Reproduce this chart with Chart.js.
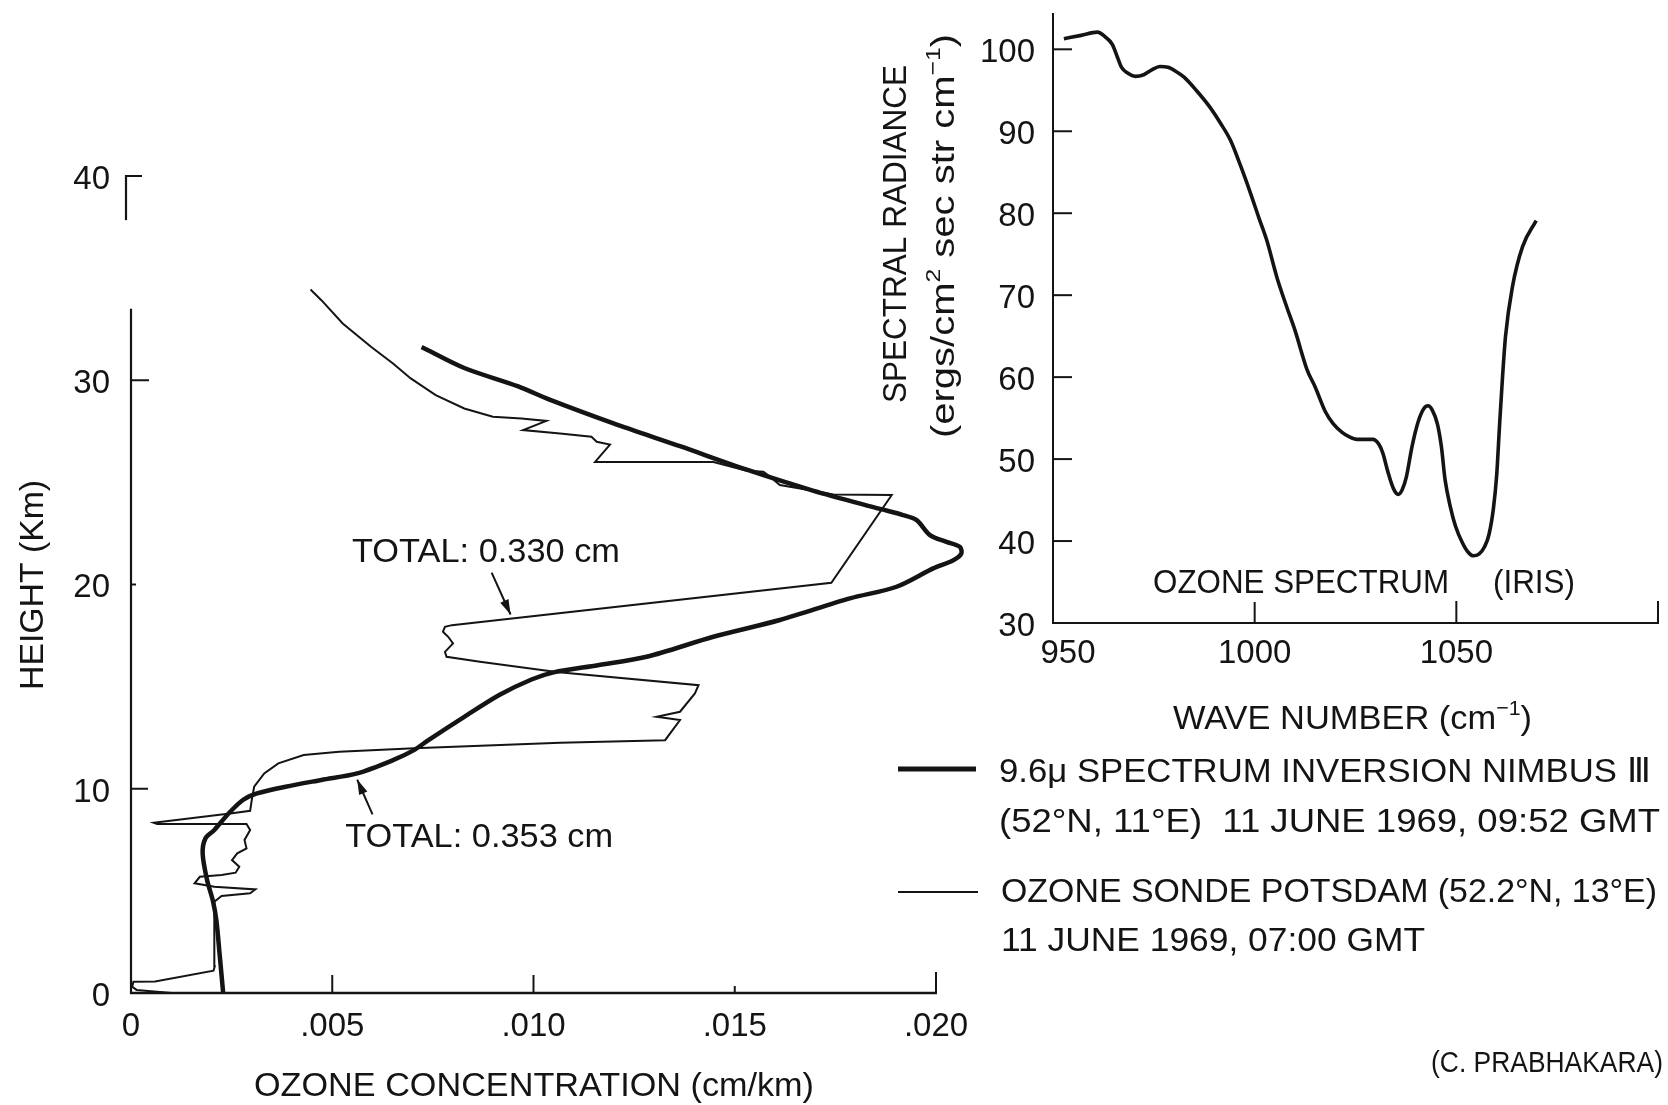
<!DOCTYPE html>
<html><head><meta charset="utf-8">
<script src="https://cdn.jsdelivr.net/npm/chart.js@4.4.1/dist/chart.umd.min.js"></script>
<style>
html,body{margin:0;padding:0;background:#fff;width:1668px;height:1105px;overflow:hidden}
canvas{position:absolute;left:0;top:0}
</style></head><body>
<canvas id="left" width="1668" height="1105"></canvas>
<canvas id="right" width="1668" height="1105"></canvas>
<script>
// ---------- DATA ----------
const heightTicks = [0, 10, 20, 30, 40];
const concTicks = [0, 0.005, 0.010, 0.015, 0.020];
const concTickLabels = ["0", ".005", ".010", ".015", ".020"];

const inversionConc = [0.00722,0.00828,0.00962,0.0104,0.01197,0.01364,0.0153,0.01694,0.01861,0.01918,0.01952,0.01985,0.02026,0.02059,0.02063,0.02043,0.01993,0.01902,0.01786,0.01612,0.01447,0.01281,0.0116,0.0105,0.00995,0.00916,0.00828,0.00739,0.00703,0.00651,0.00562,0.00473,0.00384,0.00313,0.00278,0.00243,0.00207,0.00185,0.00178,0.00189,0.00203,0.00212,0.0022,0.00229];
const inversionHeight = [31.63,30.6,29.7,29.05,27.9,26.77,25.62,24.6,23.7,23.4,23.15,22.42,22.09,21.85,21.52,21.19,20.79,19.89,19.32,18.26,17.44,16.46,16.05,15.7,15.35,14.6,13.52,12.38,11.89,11.4,10.75,10.43,10.1,9.77,9.45,8.8,7.98,7.57,6.84,5.53,4.55,3.57,1.94,0];

const sondeConc = [0.00101,0.00014,0.00003,0.00006,0.0006,0.00205,0.00208,0.00207,0.00225,0.00296,0.00309,0.00207,0.00158,0.00171,0.00225,0.0026,0.00269,0.00251,0.00264,0.00287,0.00282,0.00296,0.00287,0.00065,0.00056,0.00251,0.00296,0.003,0.00306,0.00331,0.00366,0.00429,0.00517,0.00704,0.01066,0.01327,0.01364,0.01306,0.01364,0.01401,0.0141,0.01057,0.00867,0.00784,0.0078,0.008,0.00788,0.00775,0.0078,0.00797,0.0174,0.0189,0.01745,0.01695,0.01612,0.01588,0.01571,0.0153,0.01447,0.01153,0.0119,0.01157,0.01144,0.01066,0.00974,0.01032,0.0097,0.00899,0.00828,0.00757,0.00695,0.00651,0.00597,0.00526,0.00473,0.00446];
const sondeHeight = [0,0.15,0.3,0.55,0.56,1.09,1.3,4.47,4.75,4.88,5.07,5.2,5.37,5.69,5.78,5.89,6.18,6.51,6.84,7.08,7.49,7.98,8.27,8.27,8.34,8.8,8.92,9.45,10.1,10.75,11.24,11.65,11.81,11.98,12.25,12.38,13.36,13.52,13.77,14.67,15.07,15.72,16.22,16.46,16.7,17.11,17.44,17.69,17.93,18.01,20.08,24.38,24.41,24.59,24.87,25.27,25.52,25.57,26.0,26.0,26.85,26.99,27.23,27.39,27.56,28.01,28.13,28.21,28.62,29.27,30.09,30.82,31.63,32.78,33.92,34.44];

const radianceTicks = [30, 40, 50, 60, 70, 80, 90, 100];
const waveTicks = [950, 1000, 1050, 1100];
const waveTickLabels = ["950", "1000", "1050", ""];
const waveNumbers = [952.7,957,961,963,964.7,966,967,968.5,970.4,972.5,974.5,976.5,978.5,980.5,982.5,985.5,988.8,991.5,994,996.5,999,1001,1003,1005.5,1008,1010,1013,1015,1017.5,1019.5,1021.6,1023.5,1025.4,1029.3,1030.8,1031.8,1033,1034.5,1035.6,1036.6,1037.6,1039,1040.5,1042,1043,1044,1045.3,1046.3,1047.2,1048.5,1049.8,1051.5,1053,1054.2,1055.6,1057,1058.1,1059.2,1060,1060.7,1061.4,1062.2,1063.9,1066.4,1069.8];
const radiance = [101.3,101.7,102.1,101.5,100.6,99,97.8,97.1,96.7,96.9,97.5,97.9,97.8,97.3,96.6,95,93,91,88.9,85.8,82.4,79.5,76.7,72.2,68.5,65.7,60.9,58.8,55.8,54.3,53.3,52.7,52.4,52.4,51.8,50.7,48.5,46.3,45.7,46.3,47.8,51.5,54.5,56.2,56.5,56.0,54.3,51.5,47.5,44.2,41.8,39.8,38.6,38.2,38.4,39.3,40.8,44,48,54,59.6,65,71,75.9,79.1];

const inversionLegend = ["9.6\u03bc SPECTRUM INVERSION NIMBUS \u2162", "(52\u00b0N, 11\u00b0E)  11 JUNE 1969, 09:52 GMT"];
const sondeLegend = ["OZONE SONDE POTSDAM (52.2\u00b0N, 13\u00b0E)", "11 JUNE 1969, 07:00 GMT"];
const totalLabels = ["TOTAL: 0.330 cm", "TOTAL: 0.353 cm"];

// ---------- HELPERS ----------
const FONT = '"Liberation Sans", Arial, Helvetica, sans-serif';
const INK = '#141414';
function runs(ctx, parts, x, y, o) {
  const size = o.size || 34, supSize = size * 0.62;
  ctx.save();
  let W = 0;
  const ms = parts.map(p => { ctx.font = (p.sup ? supSize : size) + 'px ' + FONT; const w = ctx.measureText(p.t).width; W += w; return w; });
  const sx = o.width ? o.width / W : 1;
  ctx.translate(x, y);
  if (o.rotate) ctx.rotate(-Math.PI / 2);
  ctx.scale(sx, 1);
  let cx = o.align === 'center' ? -W / 2 : o.align === 'right' ? -W : 0;
  ctx.fillStyle = INK; ctx.textBaseline = 'alphabetic'; ctx.textAlign = 'left';
  const base = size * 0.358;
  parts.forEach((p, i) => {
    ctx.font = (p.sup ? supSize : size) + 'px ' + FONT;
    ctx.fillText(p.t, cx, base - (p.sup ? size * 0.42 : 0));
    cx += ms[i];
  });
  ctx.restore();
}
function seg(ctx, x1, y1, x2, y2, w) {
  ctx.beginPath(); ctx.moveTo(x1, y1); ctx.lineTo(x2, y2);
  ctx.lineWidth = w; ctx.strokeStyle = INK; ctx.lineCap = 'butt'; ctx.stroke();
}
function arrow(ctx, x1, y1, x2, y2) {
  seg(ctx, x1, y1, x2, y2, 2);
  const a = Math.atan2(y2 - y1, x2 - x1), L = 15, H = 4.5;
  ctx.beginPath(); ctx.moveTo(x2, y2);
  ctx.lineTo(x2 - L * Math.cos(a) + H * Math.sin(a), y2 - L * Math.sin(a) - H * Math.cos(a));
  ctx.lineTo(x2 - L * Math.cos(a) - H * Math.sin(a), y2 - L * Math.sin(a) + H * Math.cos(a));
  ctx.closePath(); ctx.fillStyle = INK; ctx.fill();
}
const pts = (xs, ys) => xs.map((v, i) => ({ x: v, y: ys[i] }));

// ---------- LEFT CHART ----------
const leftYTickLen = [0, 17, 5, 18, 16];
const leftXTickLen = [0, 18, 18, 7, 21];
const leftDecor = {
  id: 'leftDecor',
  afterDraw(chart) {
    const { ctx, scales: { x, y } } = chart;
    const X = v => x.getPixelForValue(v), Y = v => y.getPixelForValue(v);
    ctx.save();
    seg(ctx, X(0) - 1, Y(0), X(0.02) + 1, Y(0), 2.6);
    seg(ctx, X(0), Y(0) + 1, X(0), Y(33.5), 2.2);
    seg(ctx, X(0) - 5, Y(37.84), X(0) - 5, Y(40) - 1, 2.2);
    heightTicks.forEach((h, i) => {
      const x0 = h === 40 ? X(0) - 5 : X(0);
      if (leftYTickLen[i]) seg(ctx, x0, Y(h), x0 + leftYTickLen[i], Y(h), 2);
      runs(ctx, [{ t: String(h) }], 110, Y(h) + 1, { size: 33, align: 'right' });
    });
    concTicks.forEach((c, i) => {
      if (leftXTickLen[i]) seg(ctx, X(c), Y(0), X(c), Y(0) - leftXTickLen[i], 2);
      runs(ctx, [{ t: concTickLabels[i] }], X(c), Y(0) + 31, { size: 33, align: 'center' });
    });
    runs(ctx, [{ t: 'OZONE CONCENTRATION (cm/km)' }], 254, 1084, { size: 34, width: 560 });
    runs(ctx, [{ t: 'HEIGHT (Km)' }], 31, 585, { size: 34, width: 210, rotate: true, align: 'center' });
    // annotations
    runs(ctx, [{ t: totalLabels[0] }], X(0.00549), Y(21.68), { size: 34, width: 268 });
    arrow(ctx, X(0.00896), Y(20.58), X(0.00943), Y(18.53));
    runs(ctx, [{ t: totalLabels[1] }], X(0.00532), Y(7.73), { size: 34, width: 268 });
    arrow(ctx, X(0.006), Y(8.75), X(0.00562), Y(10.45));
    // legend
    const ds = chart.data.datasets;
    seg(ctx, 898, 769, 976, 769, ds[0].borderWidth + 0.5);
    runs(ctx, [{ t: inversionLegend[0] }], 999, 770, { size: 34, width: 651 });
    runs(ctx, [{ t: inversionLegend[1] }], 999, 820, { size: 34, width: 661 });
    seg(ctx, 898, 892, 978, 892, ds[1].borderWidth);
    runs(ctx, [{ t: sondeLegend[0] }], 1001, 890, { size: 34, width: 656 });
    runs(ctx, [{ t: sondeLegend[1] }], 1001, 939, { size: 34, width: 424 });
    runs(ctx, [{ t: '(C. PRABHAKARA)' }], 1431, 1061, { size: 30, width: 232 });
    ctx.restore();
  }
};

new Chart(document.getElementById('left'), {
  type: 'scatter',
  data: {
    datasets: [
      { label: inversionLegend[0], data: pts(inversionConc, inversionHeight), showLine: true, borderColor: INK, borderWidth: 4.5, pointRadius: 0, tension: 0.3, clip: false },
      { label: sondeLegend[0], data: pts(sondeConc, sondeHeight), showLine: true, borderColor: INK, borderWidth: 2, pointRadius: 0, tension: 0, clip: false }
    ]
  },
  options: {
    responsive: false, animation: false, devicePixelRatio: 1,
    layout: { padding: { left: 131, right: 732, top: 176, bottom: 112 } },
    plugins: { legend: { display: false }, tooltip: { enabled: false } },
    scales: {
      x: { type: 'linear', min: 0, max: 0.02, display: false },
      y: { type: 'linear', min: 0, max: 40, display: false }
    },
    events: []
  },
  plugins: [leftDecor]
});

// ---------- RIGHT CHART ----------
const rightYTickLen = [0, 19, 19, 19, 19, 19, 19, 19];
const rightXTickLen = [0, 21, 22, 22];
const rightDecor = {
  id: 'rightDecor',
  afterDraw(chart) {
    const { ctx, scales: { x, y } } = chart;
    const X = v => x.getPixelForValue(v), Y = v => y.getPixelForValue(v);
    ctx.save();
    seg(ctx, X(950) - 1, Y(30), X(1100) + 1, Y(30), 2.2);
    seg(ctx, X(950), Y(30) + 1, X(950), chart.chartArea.top, 2);
    radianceTicks.forEach((r, i) => {
      if (rightYTickLen[i]) seg(ctx, X(950), Y(r), X(950) + rightYTickLen[i], Y(r), 2);
      runs(ctx, [{ t: String(r) }], 1035, Y(r) + 1, { size: 33, align: 'right' });
    });
    waveTicks.forEach((w, i) => {
      if (rightXTickLen[i]) seg(ctx, X(w), Y(30), X(w), Y(30) - rightXTickLen[i], 2);
      if (waveTickLabels[i]) runs(ctx, [{ t: waveTickLabels[i] }], X(w) + (i === 0 ? 15 : 0), Y(30) + 28, { size: 33, align: 'center' });
    });
    runs(ctx, [{ t: 'WAVE NUMBER (cm' }, { t: '\u22121', sup: true }, { t: ')' }], 1173, 717, { size: 34, width: 359 });
    runs(ctx, [{ t: 'OZONE SPECTRUM' }], 1153, 581, { size: 34, width: 296 });
    runs(ctx, [{ t: '(IRIS)' }], 1493, 581, { size: 34, width: 82 });
    runs(ctx, [{ t: 'SPECTRAL RADIANCE' }], 894, 234, { size: 34, width: 338, rotate: true, align: 'center' });
    runs(ctx, [{ t: '(ergs/cm' }, { t: '2', sup: true }, { t: ' sec str cm' }, { t: '\u22121', sup: true }, { t: ')' }], 942, 236, { size: 34, width: 404, rotate: true, align: 'center' });
    ctx.restore();
  }
};

new Chart(document.getElementById('right'), {
  type: 'scatter',
  data: {
    datasets: [
      { label: 'OZONE SPECTRUM (IRIS)', data: pts(waveNumbers, radiance), showLine: true, borderColor: INK, borderWidth: 3.6, pointRadius: 0, cubicInterpolationMode: 'monotone', clip: false }
    ]
  },
  options: {
    responsive: false, animation: false, devicePixelRatio: 1,
    layout: { padding: { left: 1053, right: 10, top: 13, bottom: 482 } },
    plugins: { legend: { display: false }, tooltip: { enabled: false } },
    scales: {
      x: { type: 'linear', min: 950, max: 1100, display: false },
      y: { type: 'linear', min: 30, max: 104.43, display: false }
    },
    events: []
  },
  plugins: [rightDecor]
});
</script>
</body></html>
